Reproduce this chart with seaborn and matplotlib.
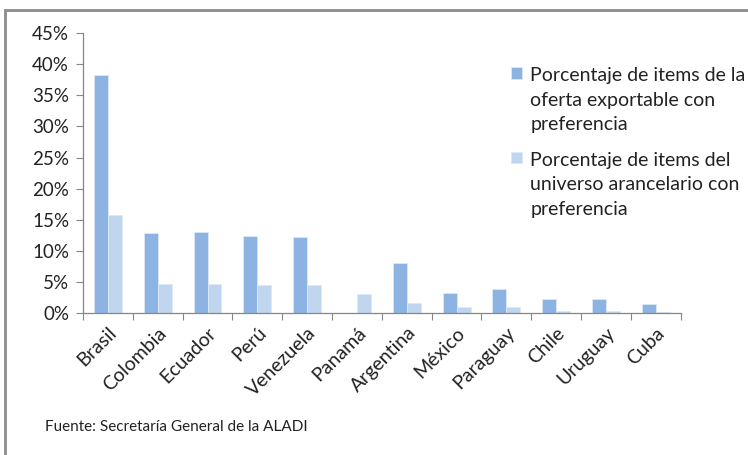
import pandas as pd
import matplotlib
matplotlib.use('Agg')
import matplotlib.pyplot as plt
import seaborn as sns
from matplotlib.patches import Rectangle
from matplotlib.ticker import FuncFormatter

paises = ['Brasil', 'Colombia', 'Ecuador', 'Perú', 'Venezuela', 'Panamá',
          'Argentina', 'México', 'Paraguay', 'Chile', 'Uruguay', 'Cuba']
oferta = [38.3, 12.8, 13.0, 12.4, 12.2, 0.0, 8.1, 3.3, 3.8, 2.2, 2.2, 1.4]
universo = [15.7, 4.6, 4.6, 4.45, 4.45, 3.0, 1.55, 0.9, 0.9, 0.25, 0.25, 0.2]
serie_1 = 'Porcentaje de items de la\noferta exportable con\npreferencia'
serie_2 = 'Porcentaje de items del\nuniverso arancelario con\npreferencia'
yticks = [0, 5, 10, 15, 20, 25, 30, 35, 40, 45]

df = pd.DataFrame({
    'pais': paises * 2,
    'valor': oferta + universo,
    'serie': [serie_1] * len(paises) + [serie_2] * len(paises),
})

sns.set_style('white')
plt.rcParams['font.family'] = ['Lato', 'DejaVu Sans']

fig = plt.figure(figsize=(7.48, 4.55), dpi=100)
ax = fig.add_axes([0.111, 0.312, 0.799, 0.615])

sns.barplot(data=df, x='pais', y='valor', hue='serie', ax=ax,
            palette=['#8DB3E2', '#C0D6EE'], width=0.56, gap=0,
            edgecolor='#DCE8F6', linewidth=0.6, saturation=1)

ax.set_xlim(-0.5, len(paises) - 0.5)
ax.set_ylim(0, 45)
ax.set_yticks(yticks)
ax.yaxis.set_major_formatter(FuncFormatter(lambda v, p: f'{v:.0f}%'))
ax.set_xlabel('')
ax.set_ylabel('')

# etiquetas en el centro, marcas entre categorías (estilo Excel)
ax.set_xticks(range(len(paises)))
ax.set_xticklabels(paises, rotation=45, ha='right', rotation_mode='anchor')
ax.set_xticks([i - 0.5 for i in range(len(paises) + 1)], minor=True)
ax.tick_params(axis='x', which='major', length=0, pad=8, labelsize=14, colors='#222222')
ax.tick_params(axis='x', which='minor', length=5, width=0.8, color='#868686', direction='out')
ax.tick_params(axis='y', length=5, width=0.8, color='#868686', direction='out',
               labelsize=13.5, labelcolor='#222222', pad=5)
ax.yaxis.set_ticks_position('left')
ax.xaxis.set_ticks_position('bottom')

for s in ['top', 'right']:
    ax.spines[s].set_visible(False)
for s in ['left', 'bottom']:
    ax.spines[s].set_color('#868686')
    ax.spines[s].set_linewidth(0.9)

leg = ax.legend(loc='upper left', bbox_to_anchor=(0.683, 0.853),
                bbox_transform=fig.transFigure, frameon=False,
                fontsize=14, handlelength=0.55, handleheight=0.55,
                handletextpad=0.45, labelspacing=0.95, borderpad=0, borderaxespad=0)
for t in leg.get_texts():
    t.set_color('#222222')
    t.set_linespacing(1.55)
# cuadrito alineado con la primera línea, como en Excel
for columna in leg._legend_handle_box.get_children():
    for fila in columna.get_children():
        fila.align = 'top'

fig.text(0.060, 0.052, 'Fuente: Secretaría General de la ALADI',
         fontsize=11, color='#222222')

# marco del gráfico
fig.patches.append(Rectangle((0.007, -0.05), 1.2, 1.028, transform=fig.transFigure,
                             fill=False, edgecolor='#8C8C8C', linewidth=2))

fig.savefig('out.png', dpi=100)
